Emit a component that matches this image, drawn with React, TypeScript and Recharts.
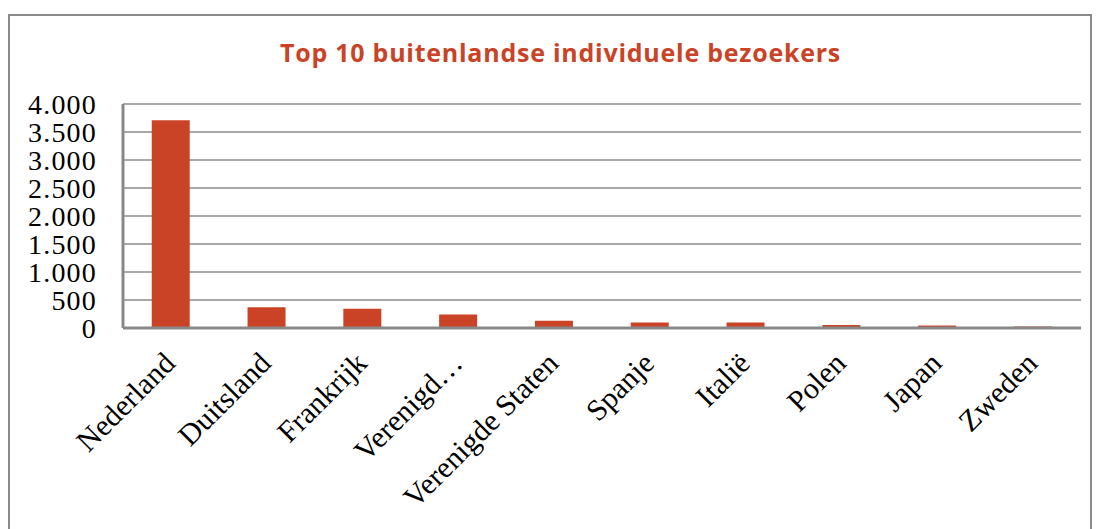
import React from "react";
import { BarChart, Bar, XAxis, YAxis, CartesianGrid } from "recharts";

const countries = [
  "Nederland",
  "Duitsland",
  "Frankrijk",
  "Verenigd…",
  "Verenigde Staten",
  "Spanje",
  "Italië",
  "Polen",
  "Japan",
  "Zweden",
];
const visitors = [3710, 372, 345, 240, 130, 100, 98, 52, 45, 28];
const yTicks = [0, 500, 1000, 1500, 2000, 2500, 3000, 3500, 4000];

const data = countries.map((name, i) => ({ name, value: visitors[i] }));

const formatNl = (v: number) =>
  String(v).replace(/\B(?=(\d{3})+(?!\d))/g, ".");

const SERIF = "'Liberation Serif', 'Times New Roman', serif";

const XTick = (props: any) => {
  const { x, y, payload } = props;
  return (
    <g transform={`translate(${x + 6},${y + 29})`}>
      <text
        transform="rotate(-45)"
        textAnchor="end"
        fontFamily={SERIF}
        fontSize={30}
        fill="#000"
      >
        {payload.value}
      </text>
    </g>
  );
};

export default function App() {
  return (
    <div
      style={{
        position: "absolute",
        left: 0,
        top: 0,
        width: 1101,
        height: 529,
        background: "#fff",
        overflow: "hidden",
      }}
    >
      <div
        style={{
          position: "absolute",
          left: 8,
          top: 14,
          width: 1084,
          height: 560,
          border: "2px solid #8a8a8a",
          boxSizing: "border-box",
        }}
      />
      <div
        style={{
          position: "absolute",
          left: 0,
          top: 36,
          width: 1121,
          textAlign: "center",
          fontFamily: "'Open Sans', Lato, sans-serif",
          fontWeight: 700,
          fontSize: 25,
          letterSpacing: 0.75,
          lineHeight: "32px",
          color: "#CB4326",
        }}
      >
        Top 10 buitenlandse individuele bezoekers
      </div>
      <div style={{ position: "absolute", left: 0, top: 0 }}>
        <BarChart
          width={1101}
          height={529}
          data={data}
          margin={{ top: 104, right: 20, bottom: 0, left: 0 }}
          barCategoryGap="30%"
        >
          <CartesianGrid
            horizontal
            vertical={false}
            stroke="#8c8c8c"
            strokeWidth={1.5}
          />
          <XAxis
            dataKey="name"
            interval={0}
            height={201}
            tickLine={false}
            axisLine={{ stroke: "#888", strokeWidth: 3 }}
            tick={<XTick />}
          />
          <YAxis
            width={123}
            domain={[0, 4000]}
            ticks={yTicks}
            interval={0}
            tickFormatter={formatNl}
            tickLine={false}
            tickMargin={20}
            axisLine={{ stroke: "#888", strokeWidth: 3 }}
            tick={{
              fill: "#000",
              fontFamily: SERIF,
              fontSize: 28,
              letterSpacing: 1.2,
            }}
          />
          <Bar dataKey="value" fill="#CB4326" isAnimationActive={false} />
        </BarChart>
      </div>
    </div>
  );
}
